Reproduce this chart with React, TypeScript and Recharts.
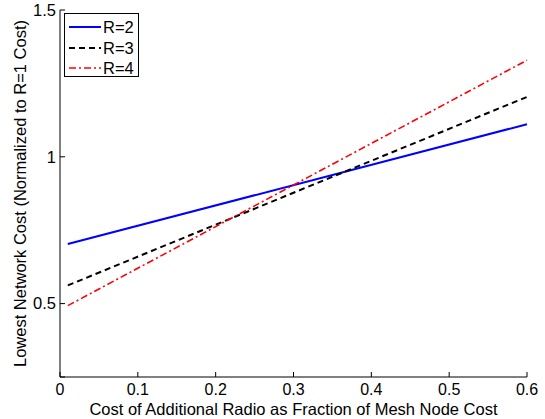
import React from 'react';
import {
  LineChart,
  Line,
  XAxis,
  YAxis,
  Legend,
} from 'recharts';

// x positions where the curves are drawn (radio cost fraction)
const radioCost = [0.01, 0.6];
const costR2 = [0.703, 1.111];
const costR3 = [0.562, 1.204];
const costR4 = [0.493, 1.329];

const xTicks = [0, 0.1, 0.2, 0.3, 0.4, 0.5, 0.6];
const yTicks = [0.25, 0.5, 1, 1.5];

const SERIES = [
  { key: 'r2', name: 'R=2', color: '#0000ff', dash: undefined as string | undefined, width: 2 },
  { key: 'r3', name: 'R=3', color: '#000000', dash: '6 4', width: 2 },
  { key: 'r4', name: 'R=4', color: '#ff0000', dash: '7 3 2 3', width: 1.6 },
];

const FONT = 'Arial, "Liberation Sans", sans-serif';

const data = radioCost.map((x, i) => ({
  x,
  r2: costR2[i],
  r3: costR3[i],
  r4: costR4[i],
}));

function LegendBox() {
  return (
    <div
      style={{
        border: '1px solid #000',
        background: '#fff',
        width: 75,
        height: 64,
        padding: '3px 0 0 0',
        boxSizing: 'border-box',
        fontFamily: FONT,
        fontSize: 16.5,
      }}
    >
      {SERIES.map((s) => (
        <div key={s.key} style={{ display: 'flex', alignItems: 'center', height: 20.5 }}>
          <svg width={38} height={6} style={{ display: 'block' }}>
            <line
              x1={4}
              x2={36}
              y1={3}
              y2={3}
              stroke={s.color}
              strokeWidth={s.width}
              strokeDasharray={s.dash}
            />
          </svg>
          <span style={{ lineHeight: '16px' }}>{s.name}</span>
        </div>
      ))}
    </div>
  );
}

export default function App() {
  return (
    <div style={{ position: 'absolute', left: 0, top: 0, width: 545, height: 419, background: '#fff' }}>
      <LineChart
        width={545}
        height={419}
        data={data}
        margin={{ top: 10, right: 18, bottom: 0, left: 0 }}
        style={{ fontFamily: FONT }}
      >
        <XAxis
          dataKey="x"
          type="number"
          domain={[0, 0.6]}
          ticks={xTicks}
          height={42}
          stroke="#000"
          tickSize={-5}
          tickMargin={12}
          tick={{ fill: '#000', fontSize: 16 }}
          label={{
            value: 'Cost of Additional Radio as Fraction of Mesh Node Cost',
            position: 'center',
            dy: 11,
            fill: '#000',
            fontSize: 16.5,
          }}
        />
        <XAxis
          xAxisId="top"
          orientation="top"
          type="number"
          domain={[0, 0.6]}
          ticks={xTicks}
          height={0}
          stroke="#000"
          tickSize={-5}
          tickFormatter={() => ''}
        />
        <YAxis
          type="number"
          domain={[0.25, 1.5]}
          ticks={yTicks}
          width={60}
          stroke="#000"
          tickSize={-5}
          tickMargin={9}
          tick={{ fill: '#000', fontSize: 16.5 }}
          tickFormatter={(v: number) => (v === 0.25 ? '' : String(v))}
          label={{
            value: 'Lowest Network Cost (Normalized to R=1 Cost)',
            angle: -90,
            position: 'center',
            dx: -10,
            fill: '#000',
            fontSize: 16.5,
          }}
        />
        <YAxis
          yAxisId="right"
          orientation="right"
          type="number"
          domain={[0.25, 1.5]}
          ticks={yTicks}
          width={0}
          stroke="#000"
          tickSize={-5}
          tickFormatter={() => ''}
        />
        <Legend
          layout="vertical"
          align="center"
          verticalAlign="middle"
          wrapperStyle={{ left: 64, top: 13, width: 'auto' }}
          content={() => <LegendBox />}
        />
        {SERIES.map((s) => (
          <Line
            key={s.key}
            dataKey={s.key}
            name={s.name}
            stroke={s.color}
            strokeWidth={s.width}
            strokeDasharray={s.dash}
            dot={false}
            isAnimationActive={false}
          />
        ))}
      </LineChart>
    </div>
  );
}
